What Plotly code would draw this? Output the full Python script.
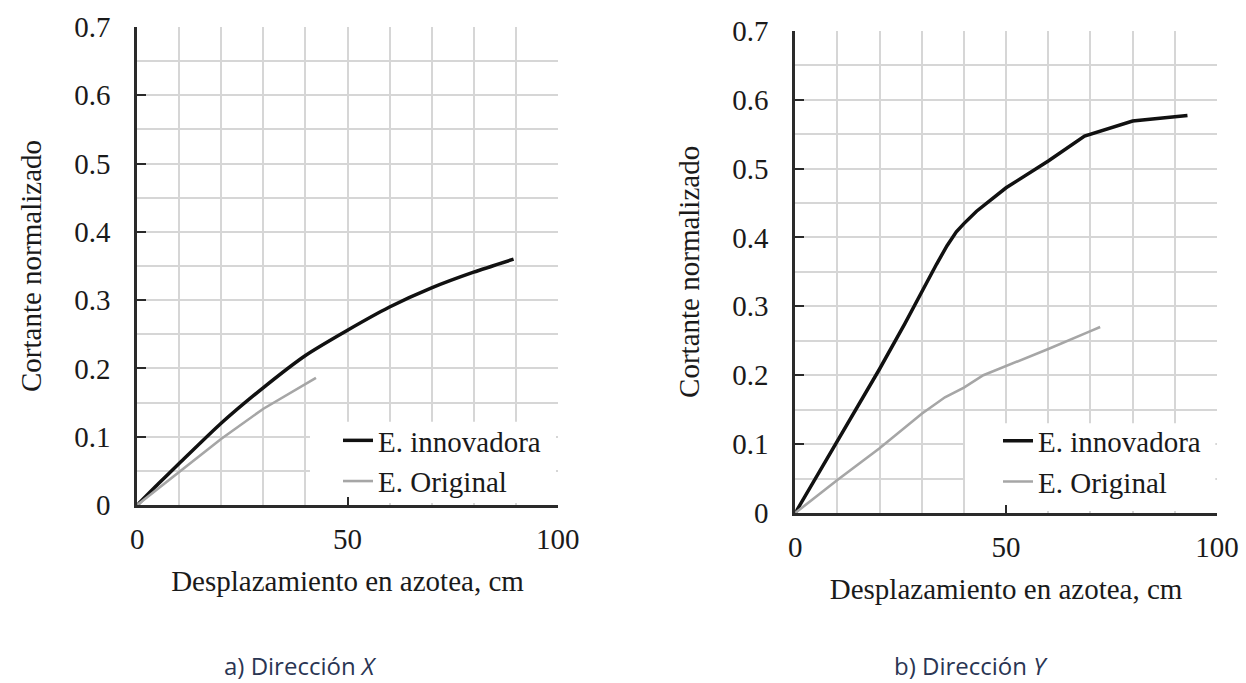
import plotly.graph_objects as go

# Curvas cortante normalizado vs desplazamiento en azotea
# a) Dirección X
x_dir_x_innov = [0, 5, 10, 20, 30, 40, 50, 60, 70, 80, 89.5]
y_dir_x_innov = [0, 0.031, 0.061, 0.12, 0.172, 0.219, 0.256, 0.29, 0.318, 0.341, 0.36]
x_dir_x_orig = [0, 10, 20, 30, 40, 42.5]
y_dir_x_orig = [0, 0.048, 0.097, 0.141, 0.178, 0.186]

# b) Dirección Y
x_dir_y_innov = [0, 10, 20, 26, 30, 33.5, 36, 38.2, 40, 43, 50, 60, 68.6, 80, 90, 93]
y_dir_y_innov = [0, 0.105, 0.209, 0.275, 0.322, 0.361, 0.388, 0.408, 0.42, 0.438, 0.472, 0.511, 0.547,
                 0.569, 0.575, 0.577]
x_dir_y_orig = [0, 10, 20, 30, 35.5, 40, 44.6, 50, 60, 70, 72.3]
y_dir_y_orig = [0, 0.048, 0.094, 0.144, 0.168, 0.182, 0.2, 0.213, 0.238, 0.264, 0.27]

series_names = ["E. innovadora", "E. Original"]
x_ticks = [0, 50, 100]
y_ticks = [0, 0.1, 0.2, 0.3, 0.4, 0.5, 0.6, 0.7]
x_title = "Desplazamiento en azotea, cm"
y_title = "Cortante normalizado"
captions = ["a) Dirección <i>X</i>", "b) Dirección <i>Y</i>"]

W, H = 1246, 683
X_RANGE = [0, 100]
Y_RANGE = [0, 0.7]
SERIF = "Liberation Serif"
FS = 29
TXT = "#1a1a1a"
GRID = "#d6d6d6"
AXIS = "#2a2a2a"
BLACK = "#111111"
GRAY = "#a6a6a6"

fig = go.Figure()

fig.add_trace(go.Scatter(x=x_dir_x_innov, y=y_dir_x_innov, mode="lines", name=series_names[0],
                         line=dict(color=BLACK, width=3.5, shape="spline", smoothing=0.6),
                         xaxis="x", yaxis="y", legend="legend"))
fig.add_trace(go.Scatter(x=x_dir_x_orig, y=y_dir_x_orig, mode="lines", name=series_names[1],
                         line=dict(color=GRAY, width=2.6),
                         xaxis="x", yaxis="y", legend="legend"))
fig.add_trace(go.Scatter(x=x_dir_y_innov, y=y_dir_y_innov, mode="lines", name=series_names[0],
                         line=dict(color=BLACK, width=3.5),
                         xaxis="x2", yaxis="y2", legend="legend2"))
fig.add_trace(go.Scatter(x=x_dir_y_orig, y=y_dir_y_orig, mode="lines", name=series_names[1],
                         line=dict(color=GRAY, width=2.6),
                         xaxis="x2", yaxis="y2", legend="legend2"))


def xaxis_style(domain, anchor):
    return dict(
        domain=domain, anchor=anchor, range=X_RANGE, automargin=False,
        tickvals=x_ticks, ticktext=[str(v) for v in x_ticks],
        ticks="inside", ticklen=8, tickwidth=2, tickcolor=AXIS,
        showline=True, linecolor=AXIS, linewidth=2.8,
        showgrid=True, gridcolor=GRID, gridwidth=2,
        minor=dict(dtick=10, showgrid=True, gridcolor=GRID, gridwidth=2, ticks=""),
        zeroline=False, ticklabelstandoff=6,
        tickfont=dict(family=SERIF, size=FS, color=TXT),
        title=dict(text=x_title, font=dict(family=SERIF, size=FS, color=TXT), standoff=17),
        fixedrange=True,
    )


def yaxis_style(domain, anchor):
    return dict(
        domain=domain, anchor=anchor, range=Y_RANGE, automargin=False,
        tickvals=y_ticks, ticktext=[f"{v:g}" for v in y_ticks],
        ticks="inside", ticklen=9, tickwidth=2, tickcolor=AXIS,
        showline=True, linecolor=AXIS, linewidth=2.8,
        showgrid=True, gridcolor=GRID, gridwidth=2,
        minor=dict(dtick=0.05, showgrid=True, gridcolor=GRID, gridwidth=2, ticks=""),
        zeroline=False, ticklabelstandoff=18,
        tickfont=dict(family=SERIF, size=FS, color=TXT),
        title=dict(text=y_title, font=dict(family=SERIF, size=FS, color=TXT), standoff=25),
        fixedrange=True,
    )


def legend_style(x, y, indent):
    return dict(
        x=x, y=y, xanchor="left", yanchor="top",
        bgcolor="rgba(0,0,0,0)", borderwidth=0, indentation=indent,
        font=dict(family=SERIF, size=FS, color=TXT),
        itemclick=False, itemdoubleclick=False,
    )


fig.update_layout(
    template="none",
    width=W, height=H,
    margin=dict(l=0, r=0, t=0, b=0, autoexpand=False),
    paper_bgcolor="white", plot_bgcolor="white",
    showlegend=True,
    xaxis=xaxis_style([137.3 / W, 557.7 / W], "y"),
    yaxis=yaxis_style([1 - 505 / H, 1 - 27 / H], "x"),
    xaxis2=xaxis_style([795.2 / W, 1217 / W], "y2"),
    yaxis2=yaxis_style([1 - 513 / H, 1 - 30.7 / H], "x2"),
    legend=legend_style(310 / W, 1 - 415 / H, 28),
    legend2=legend_style(965 / W, 1 - 415.5 / H, 33),
)

# White panel behind each legend: hides the grid there, axis lines stay on top
for xr, yr, fx0, fy1 in [("x", "y", 0.4108, 0.1743), ("x2", "y2", 0.4026, 0.186)]:
    span_x = X_RANGE[1] - X_RANGE[0]
    span_y = Y_RANGE[1] - Y_RANGE[0]
    fig.add_shape(type="rect", xref=xr, yref=yr,
                  x0=X_RANGE[0] + fx0 * span_x, x1=X_RANGE[0] + 0.996 * span_x,
                  y0=Y_RANGE[0] + 0.004 * span_y, y1=Y_RANGE[0] + fy1 * span_y,
                  fillcolor="white", line=dict(width=0), layer="between")

for cx, text in zip([300.5 / W, 971 / W], captions):
    fig.add_annotation(
        x=cx, y=1 - 665 / H, xref="paper", yref="paper",
        xanchor="center", yanchor="middle", showarrow=False,
        text=text, font=dict(family="Open Sans", size=24, color="#2a3553"),
    )

fig.write_html("out.html")
